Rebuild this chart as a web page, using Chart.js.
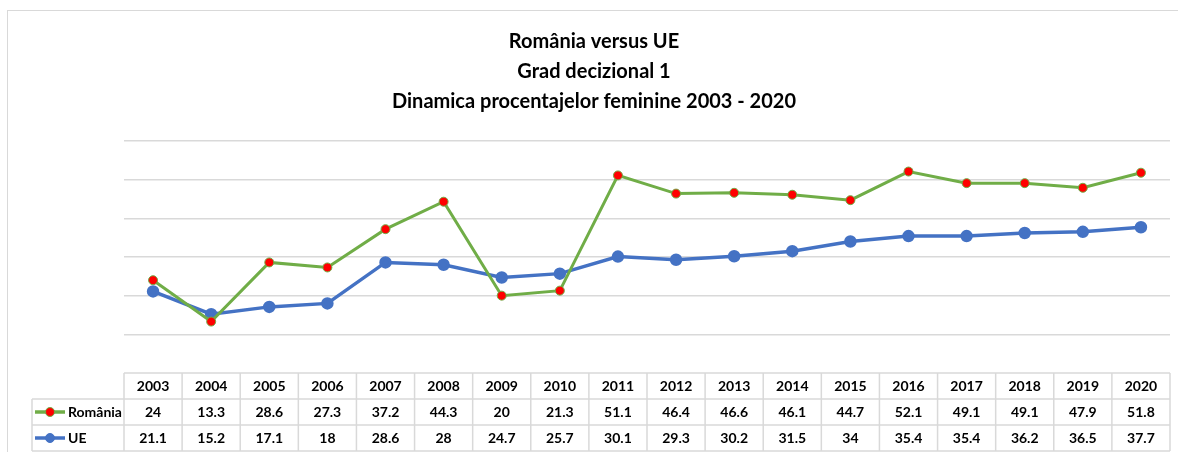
<!DOCTYPE html>
<html lang="ro">
<head>
    <meta charset="UTF-8">
    <title>România versus UE</title>
    <style>
        html, body { margin: 0; padding: 0; background: #fff; }
        #wrap { width: 1178px; height: 452px; }
    </style>
</head>
<body>
    <div id="wrap"><canvas id="chartId" aria-label="chart"></canvas></div>
    <script src="https://cdn.jsdelivr.net/npm/chart.js@4.4.0/dist/chart.umd.min.js"></script>
    <script>
        const years = ['2003','2004','2005','2006','2007','2008','2009','2010','2011','2012','2013','2014','2015','2016','2017','2018','2019','2020'];
        const romania = [24, 13.3, 28.6, 27.3, 37.2, 44.3, 20, 21.3, 51.1, 46.4, 46.6, 46.1, 44.7, 52.1, 49.1, 49.1, 47.9, 51.8];
        const ue = [21.1, 15.2, 17.1, 18, 28.6, 28, 24.7, 25.7, 30.1, 29.3, 30.2, 31.5, 34, 35.4, 35.4, 36.2, 36.5, 37.7];
        const titleLines = ['România versus UE', 'Grad decizional 1', 'Dinamica procentajelor feminine 2003 - 2020'];

        const green = '#70ad47';
        const blue = '#4472c4';
        const gridColor = '#d9d9d9';
        const fontFam = 'Lato, "Liberation Sans", sans-serif';

        // draws the excel-like data table under the plot + outer frame
        const dataTable = {
            id: 'dataTable',
            afterDraw(chart) {
                const ctx = chart.ctx;
                const area = chart.chartArea;
                const x = chart.scales.x;
                const half = (x.getPixelForValue(1) - x.getPixelForValue(0)) / 2;
                const top = area.bottom;
                const rowH = 26;
                const labelLeft = 32;

                ctx.save();
                // chart frame
                ctx.strokeStyle = gridColor;
                ctx.lineWidth = 1;
                ctx.strokeRect(7.5, 10.5, 1300, 600);

                ctx.lineWidth = 1.5;
                ctx.beginPath();
                ctx.moveTo(area.left, top);
                ctx.lineTo(area.right, top);
                for (let r = 1; r <= 3; r++) {
                    ctx.moveTo(labelLeft, top + r * rowH);
                    ctx.lineTo(area.right, top + r * rowH);
                }
                ctx.moveTo(labelLeft, top + rowH);
                ctx.lineTo(labelLeft, top + 3 * rowH);
                for (let i = 0; i <= years.length; i++) {
                    const px = i < years.length ? x.getPixelForValue(i) - half : x.getPixelForValue(years.length - 1) + half;
                    ctx.moveTo(px, top);
                    ctx.lineTo(px, top + 3 * rowH);
                }
                ctx.stroke();

                ctx.fillStyle = '#000';
                ctx.font = 'bold 14px ' + fontFam;
                ctx.textAlign = 'center';
                ctx.textBaseline = 'middle';
                years.forEach((y, i) => {
                    const cx = x.getPixelForValue(i);
                    ctx.fillText(y, cx, top + rowH * 0.5);
                    ctx.fillText(String(romania[i]), cx, top + rowH * 1.5);
                    ctx.fillText(String(ue[i]), cx, top + rowH * 2.5);
                });

                // legend keys
                const keys = [
                    { label: 'România', line: green, fill: '#ff0000', border: green },
                    { label: 'UE', line: blue, fill: blue, border: blue }
                ];
                keys.forEach((k, r) => {
                    const cy = top + rowH * (1.5 + r);
                    ctx.strokeStyle = k.line;
                    ctx.lineWidth = 3.5;
                    ctx.beginPath();
                    ctx.moveTo(35, cy);
                    ctx.lineTo(65, cy);
                    ctx.stroke();
                    ctx.beginPath();
                    ctx.arc(50, cy, 4.5, 0, Math.PI * 2);
                    ctx.fillStyle = k.fill;
                    ctx.fill();
                    ctx.lineWidth = 1;
                    ctx.strokeStyle = k.border;
                    ctx.stroke();
                    ctx.fillStyle = '#000';
                    ctx.textAlign = 'left';
                    ctx.fillText(k.label, 68, cy);
                });
                ctx.restore();
            }
        };

        const ctx = document.getElementById('chartId').getContext('2d');
        const myChart = new Chart(ctx, {
            type: 'line',
            data: {
                labels: years,
                datasets: [{
                    label: 'România',
                    data: romania,
                    borderColor: green,
                    borderWidth: 3,
                    pointBackgroundColor: '#ff0000',
                    pointBorderColor: green,
                    pointBorderWidth: 1,
                    pointRadius: 4.5,
                    tension: 0,
                    clip: false
                }, {
                    label: 'UE',
                    data: ue,
                    borderColor: blue,
                    borderWidth: 3.5,
                    pointBackgroundColor: blue,
                    pointBorderColor: blue,
                    pointRadius: 4.5,
                    tension: 0,
                    clip: false
                }]
            },
            options: {
                responsive: true,
                maintainAspectRatio: false,
                animation: false,
                layout: { padding: { left: 15, right: 5, top: 0, bottom: 79 } },
                plugins: {
                    legend: { display: false },
                    tooltip: { enabled: false },
                    title: {
                        display: true,
                        text: titleLines,
                        color: '#000',
                        font: { family: fontFam, size: 20, weight: 'bold', lineHeight: '30px' },
                        padding: { top: 27, bottom: 24 }
                    }
                },
                scales: {
                    x: {
                        display: false,
                        offset: true
                    },
                    y: {
                        min: 0,
                        max: 60,
                        ticks: { display: false, stepSize: 10 },
                        border: { display: false },
                        grid: {
                            drawTicks: false,
                            lineWidth: 1.5,
                            color: c => c.tick && c.tick.value === 0 ? 'rgba(0,0,0,0)' : gridColor
                        },
                        afterFit: scale => { scale.width = 109; }
                    }
                }
            },
            plugins: [dataTable]
        });
    </script>
</body>
</html>
